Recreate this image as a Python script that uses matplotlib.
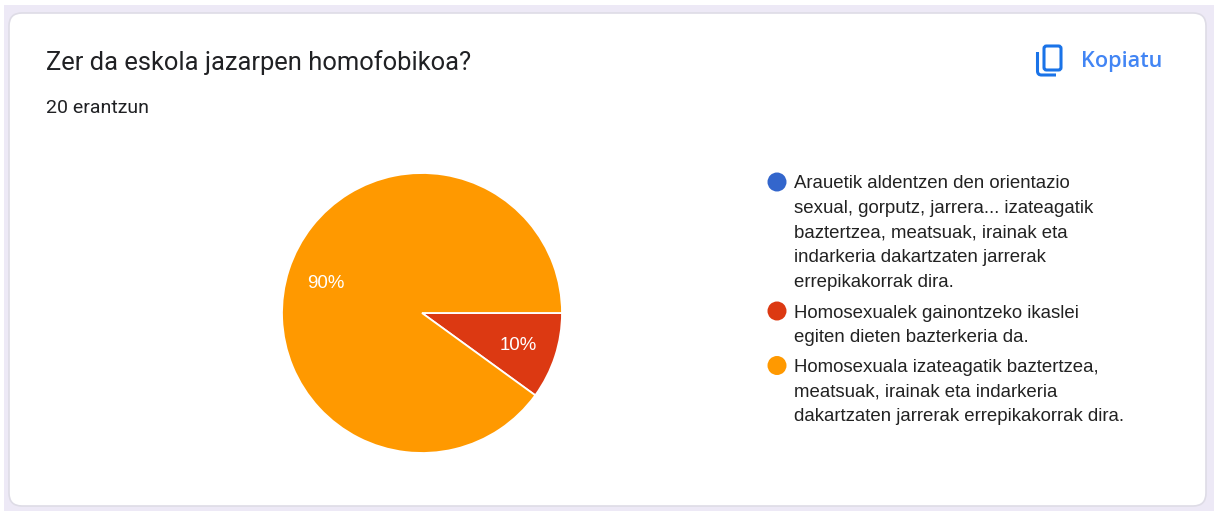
import math
import matplotlib
matplotlib.use("Agg")
import matplotlib.pyplot as plt
from matplotlib.patches import FancyBboxPatch, Rectangle, Circle, PathPatch
from matplotlib.path import Path

title = "Zer da eskola jazarpen homofobikoa?"
subtitle = "20 erantzun"
action = "Kopiatu"
categories = [
    "Arauetik aldentzen den orientazio\nsexual, gorputz, jarrera... izateagatik\nbaztertzea, meatsuak, irainak eta\nindarkeria dakartzaten jarrerak\nerrepikakorrak dira.",
    "Homosexualek gainontzeko ikaslei\negiten dieten bazterkeria da.",
    "Homosexuala izateagatik baztertzea,\nmeatsuak, irainak eta indarkeria\ndakartzaten jarrerak errepikakorrak dira.",
]
values = [0, 10, 90]
colors = ["#3366cc", "#dc3912", "#ff9900"]
pct_labels = ["", "10%", "90%"]

W, H = 1218, 511
fig = plt.figure(figsize=(W / 100, H / 100), dpi=100, facecolor="white")
bg = fig.add_axes([0, 0, 1, 1])
bg.set_xlim(0, W)
bg.set_ylim(H, 0)
bg.axis("off")

# page and card
bg.add_patch(Rectangle((4, 5), 1210, 506, fc="#ede9f6", ec="none"))
bg.add_patch(FancyBboxPatch((9, 13), 1197, 493, boxstyle="round,pad=0,rounding_size=13",
                            fc="white", ec="#dedce6", lw=1.2))

# header text
bg.text(46, 70, title, family="Roboto", fontsize=18.4, color="#202124", va="baseline", ha="left")
bg.text(46, 113, subtitle, family="Roboto", fontsize=14.0, color="#202124", va="baseline", ha="left")
bg.text(1081, 67, action, family="Open Sans", fontsize=15.6, color="#4285f4", va="baseline", ha="left",
        fontweight="semibold")

# copy icon
blue = "#1a73e8"
bg.add_patch(FancyBboxPatch((1044, 46), 17, 24, boxstyle="round,pad=0,rounding_size=2.5",
                            fc="none", ec=blue, lw=2.2))
bg.add_patch(PathPatch(Path([(1037.5, 52), (1037.5, 71), (1037.5, 75), (1041.5, 75), (1056, 75)],
                            [Path.MOVETO, Path.LINETO, Path.CURVE3, Path.CURVE3, Path.LINETO]),
                       fc="none", ec=blue, lw=2.2))

# pie
cx, cy, r = 422, 313, 140
pie_ax = fig.add_axes([(cx - r) / W, 1 - (cy + r) / H, 2 * r / W, 2 * r / H])
pie_ax.pie(values, colors=colors, startangle=0, counterclock=False, radius=1,
           wedgeprops=dict(edgecolor="white", linewidth=1.3),
           center=(0, 0), frame=False)
pie_ax.set_xlim(-1, 1)
pie_ax.set_ylim(-1, 1)
pie_ax.patch.set_alpha(0)

# labels placed along each wedge's middle angle
start = 0.0
total = sum(values)
for v, lab in zip(values, pct_labels):
    sweep = 360 * v / total
    if lab:
        a = math.radians(start + sweep / 2)
        px = cx + 0.72 * r * math.cos(a)
        py = cy + 0.72 * r * math.sin(a)
        fig.text(px / W, 1 - (py + 1.5) / H, lab, family="Liberation Sans", fontsize=13.4,
                 color="white", ha="center", va="center", zorder=10, fontweight="normal")
    start += sweep

# legend
line_h = 24.6
ys = [182, 311, 365.5]
for label, color, y0 in zip(categories, colors, ys):
    bg.add_patch(Circle((777, y0), 9.5, fc=color, ec="none"))
    for i, line in enumerate(label.split("\n")):
        bg.text(794.5, y0 + 6.5 + i * line_h, line, family="Liberation Sans", fontsize=13.45,
                color="#222222", va="baseline", ha="left")

fig.savefig("out.png", dpi=100)
